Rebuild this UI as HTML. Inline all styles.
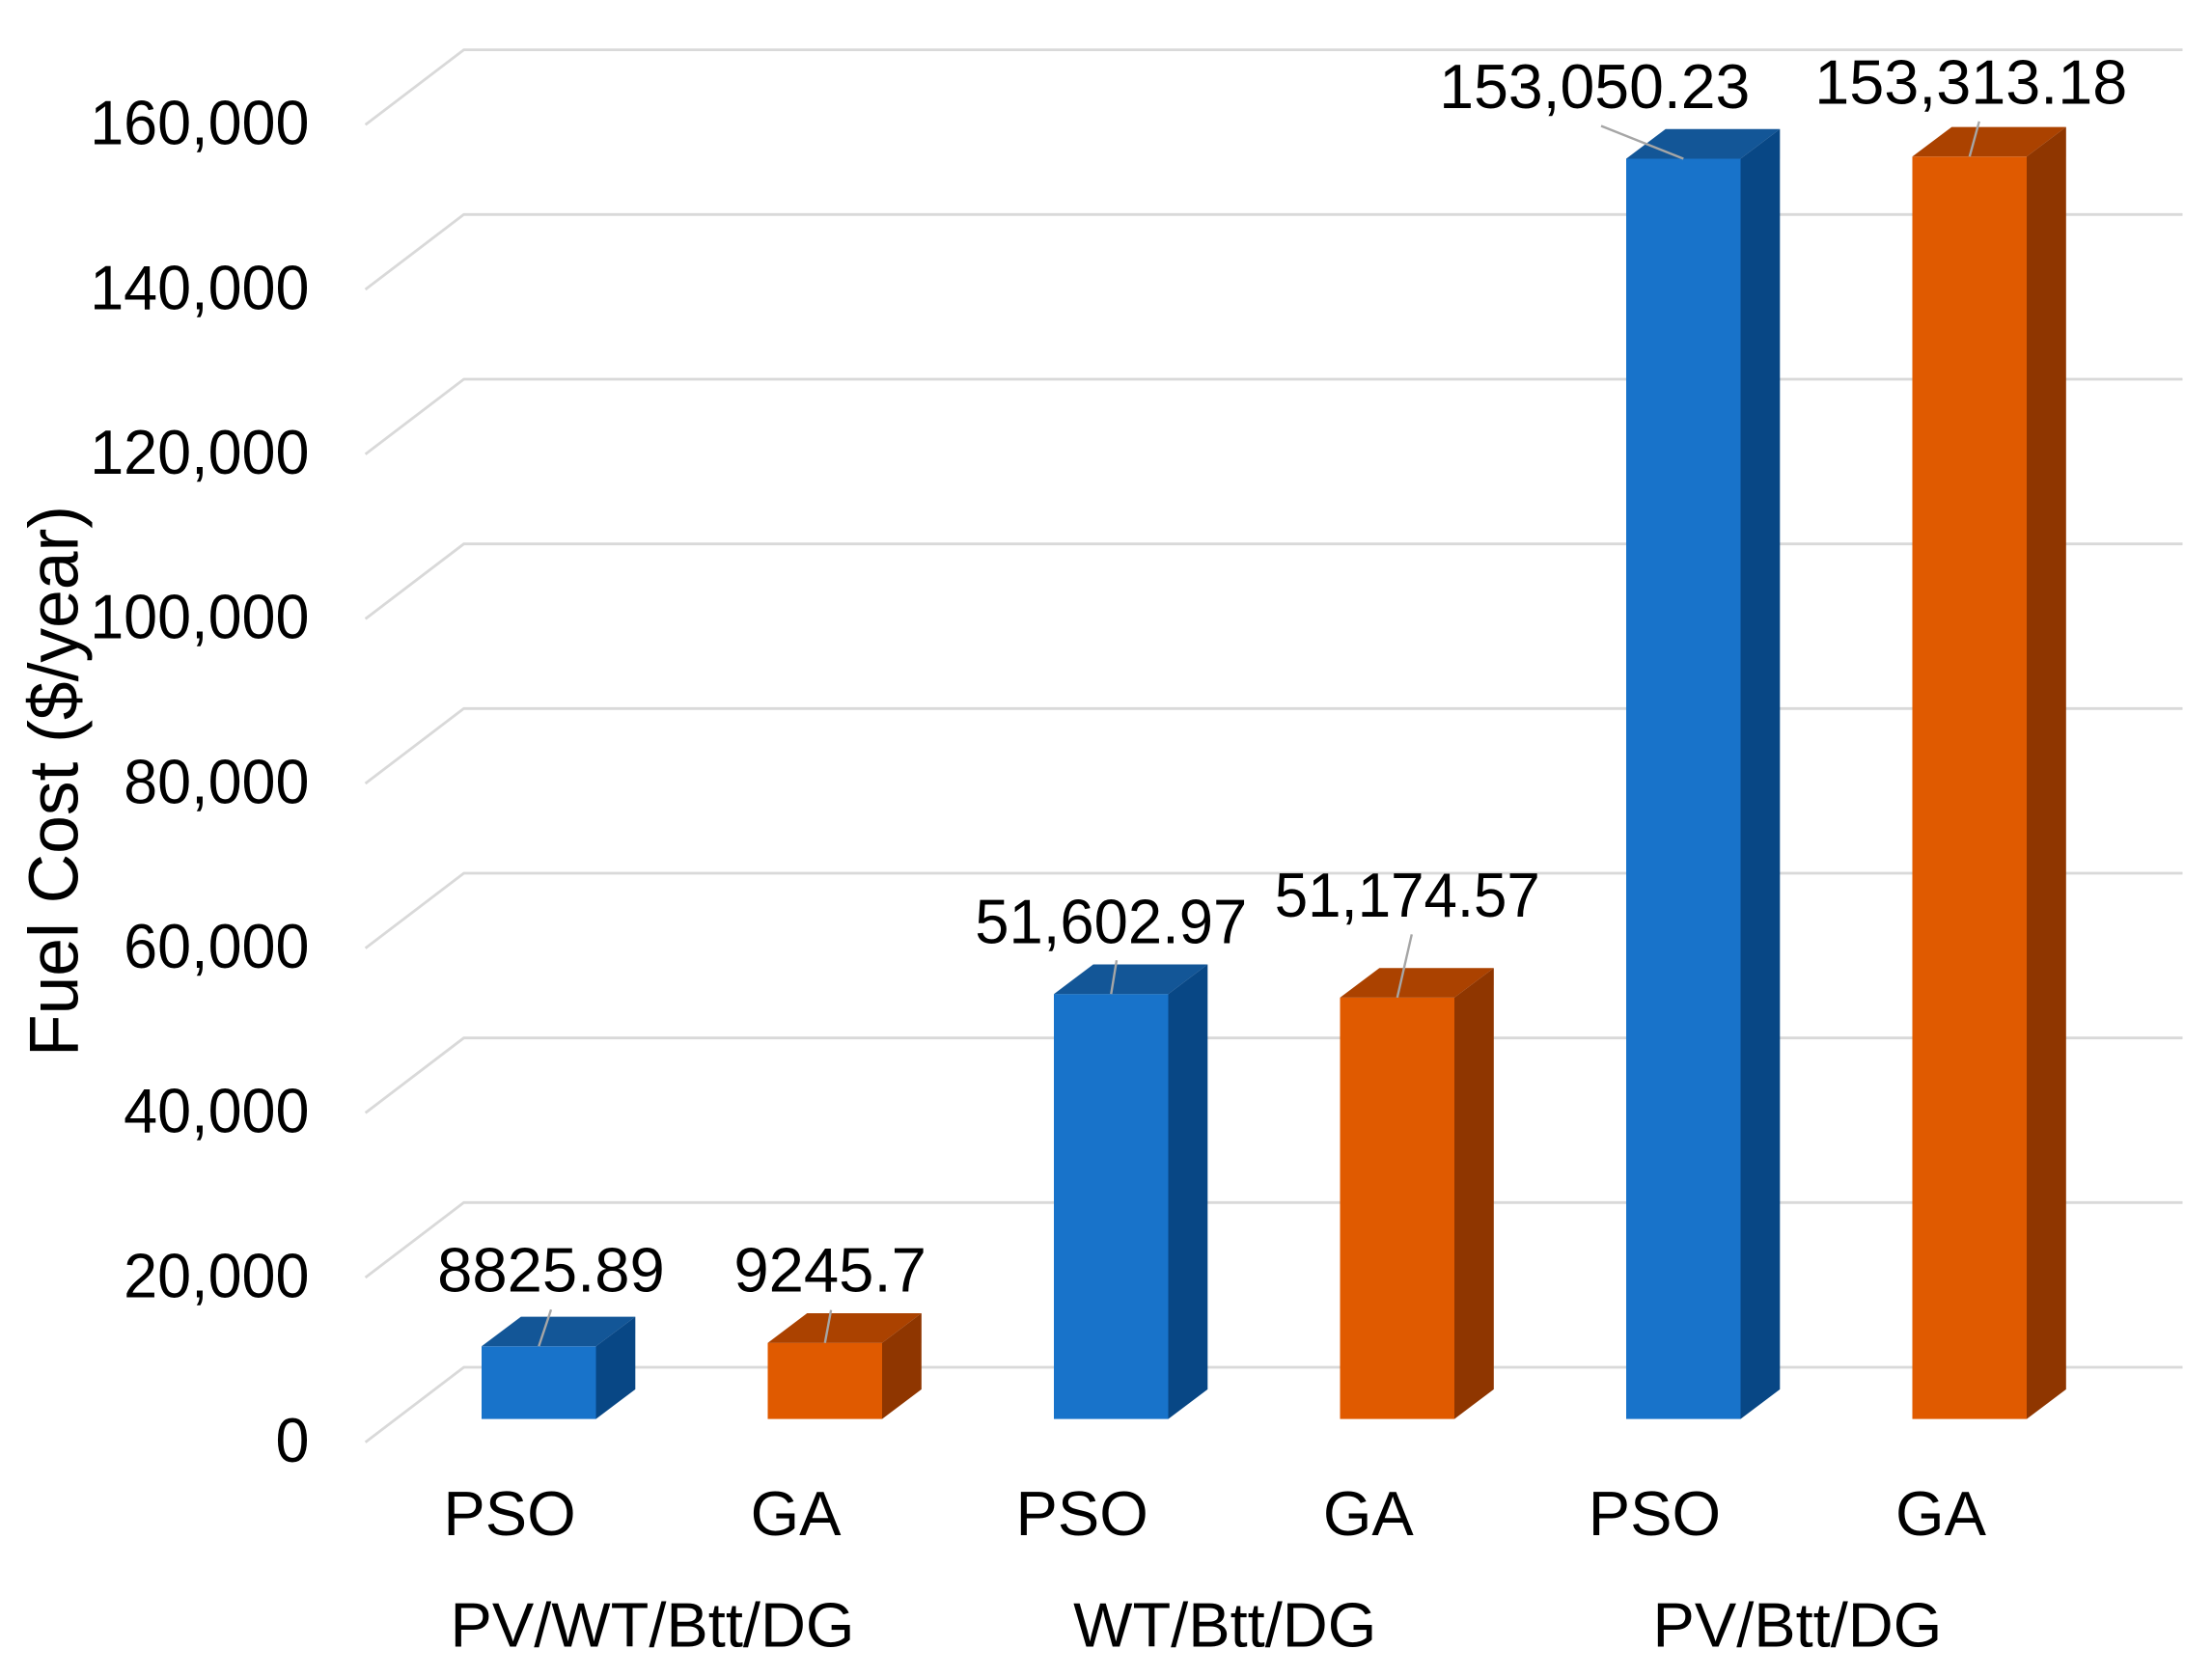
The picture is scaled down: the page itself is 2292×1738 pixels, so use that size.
<!DOCTYPE html>
<html lang="en">
<head>
<meta charset="utf-8">
<title>Fuel Cost Chart</title>
<style>
html,body{margin:0;padding:0;background:#fff}
svg{display:block;font-family:"Liberation Sans",Arial,sans-serif;fill:#000}
</style>
</head>
<body>
<svg id="chart" xmlns="http://www.w3.org/2000/svg" width="2292" height="1738" viewBox="0 0 2292 1738">
  <rect x="0" y="0" width="2292" height="1738" fill="#ffffff"></rect>
  <g id="grid"></g>
  <g id="ticks"></g>
  <g id="bars"></g>
  <g id="leaders"></g>
  <g id="labels"></g>
  <g id="cats"></g>
  <g id="groups"></g>
  <text transform="translate(80.5 809.5) rotate(-90)" text-anchor="middle" font-size="72" textLength="571" lengthAdjust="spacingAndGlyphs">Fuel Cost ($/year)</text>
</svg>
<script>
// Chart data
const categories = ['PSO', 'GA', 'PSO', 'GA', 'PSO', 'GA'];
const groups = ['PV/WT/Btt/DG', 'WT/Btt/DG', 'PV/Btt/DG'];
const fuelCost = [8825.89, 9245.7, 51602.97, 51174.57, 153050.23, 153313.18];
const valueLabels = ['8825.89', '9245.7', '51,602.97', '51,174.57', '153,050.23', '153,313.18'];
const tickValues = [0, 20000, 40000, 60000, 80000, 100000, 120000, 140000, 160000];
const tickLabels = ['0', '20,000', '40,000', '60,000', '80,000', '100,000', '120,000', '140,000', '160,000'];

// Manual data-label placement, relative to each bar's top centre
const labelShiftX = [12.7, 5.4, 0, 10.5, -92, 1.5];
const labelShiftY = [-57, -53, -52.5, -84, -52.5, -55];
const labelFit = [235.6, 199.5, 282, 275, 322, 324];
const leaderShiftX = [12.7, 6.4, 5.7, 15, -85.2, 10];
const leaderShiftY = [-38, -34, -35, -65.5, -34, -36.5];

// Axis functions
const PX_PER_UNIT = 170.67 / 20000;
const BAR_BASE = 1470.6;
const BAR_W = 118.5, DEPTH_X = 40.8, DEPTH_Y = 30.7;
const yBar = v => BAR_BASE - v * PX_PER_UNIT;
const yGridBack = v => 1417 - v * PX_PER_UNIT;
const yGridFront = v => 1494.7 - v * PX_PER_UNIT;
const yTick = v => 1515 - v * PX_PER_UNIT;
const xBar = i => 499 + i * 296.5;
const xCat = i => 528 + i * 296.6;
const xGroup = i => 676 + i * 593.2;

const NS = 'http://www.w3.org/2000/svg';
function make(parent, tag, attrs, text) {
  const el = document.createElementNS(NS, tag);
  for (const k in attrs) el.setAttribute(k, attrs[k]);
  if (text !== undefined) el.textContent = text;
  document.getElementById(parent).appendChild(el);
  return el;
}
const pts = a => a.map(p => p[0].toFixed(1) + ',' + p[1].toFixed(1)).join(' ');

tickValues.forEach((v, i) => {
  const line = make('grid', 'polyline', {
    points: pts([[378.6, yGridFront(v)], [480.6, yGridBack(v)], [2261.5, yGridBack(v)]]),
    fill: 'none', stroke: '#d9d9d9', 'stroke-width': 2.8
  });
  
  
  const t = make('ticks', 'text', {
    transform: 'translate(320.5 ' + yTick(v).toFixed(1) + ') scale(0.975 1)',
    'text-anchor': 'end', 'font-size': 64.5
  }, tickLabels[i]);
  
  
});

fuelCost.forEach((v, i) => {
  const x = xBar(i), top = yBar(v), isPso = i % 2 === 0;
  const front = make('bars', 'rect', {
    x: x, y: top.toFixed(1), width: BAR_W, height: (BAR_BASE - top).toFixed(1),
    fill: isPso ? '#1873ca' : '#e05a00'
  });
  
  
  const topFace = make('bars', 'polygon', {
    points: pts([[x, top], [x + DEPTH_X, top - DEPTH_Y], [x + BAR_W + DEPTH_X, top - DEPTH_Y], [x + BAR_W, top]]),
    fill: isPso ? '#135697' : '#ab4200'
  });
  
  
  const side = make('bars', 'polygon', {
    points: pts([[x + BAR_W, top], [x + BAR_W + DEPTH_X, top - DEPTH_Y], [x + BAR_W + DEPTH_X, BAR_BASE - DEPTH_Y], [x + BAR_W, BAR_BASE]]),
    fill: isPso ? '#084785' : '#8f3600'
  });
  
  

  const cx = x + BAR_W / 2;
  const leader = make('leaders', 'line', {
    x1: (cx + leaderShiftX[i]).toFixed(1), y1: (top + leaderShiftY[i]).toFixed(1),
    x2: cx.toFixed(1), y2: top.toFixed(1),
    stroke: '#a6a6a6', 'stroke-width': 2.4
  });
  
  
  const label = make('labels', 'text', {
    x: (cx + labelShiftX[i]).toFixed(1), y: (top + labelShiftY[i]).toFixed(1),
    'text-anchor': 'middle', 'font-size': 65,
    textLength: labelFit[i], lengthAdjust: 'spacingAndGlyphs'
  }, valueLabels[i]);
  
  
});

categories.forEach((c, i) => {
  const t = make('cats', 'text', {
    x: xCat(i), y: 1591, 'text-anchor': 'middle', 'font-size': 65
  }, c);
  
  
});

groups.forEach((g, i) => {
  const t = make('groups', 'text', {
    x: xGroup(i), y: 1706.7, 'text-anchor': 'middle', 'font-size': 65
  }, g);
  
  
});
</script>
</body>
</html>
